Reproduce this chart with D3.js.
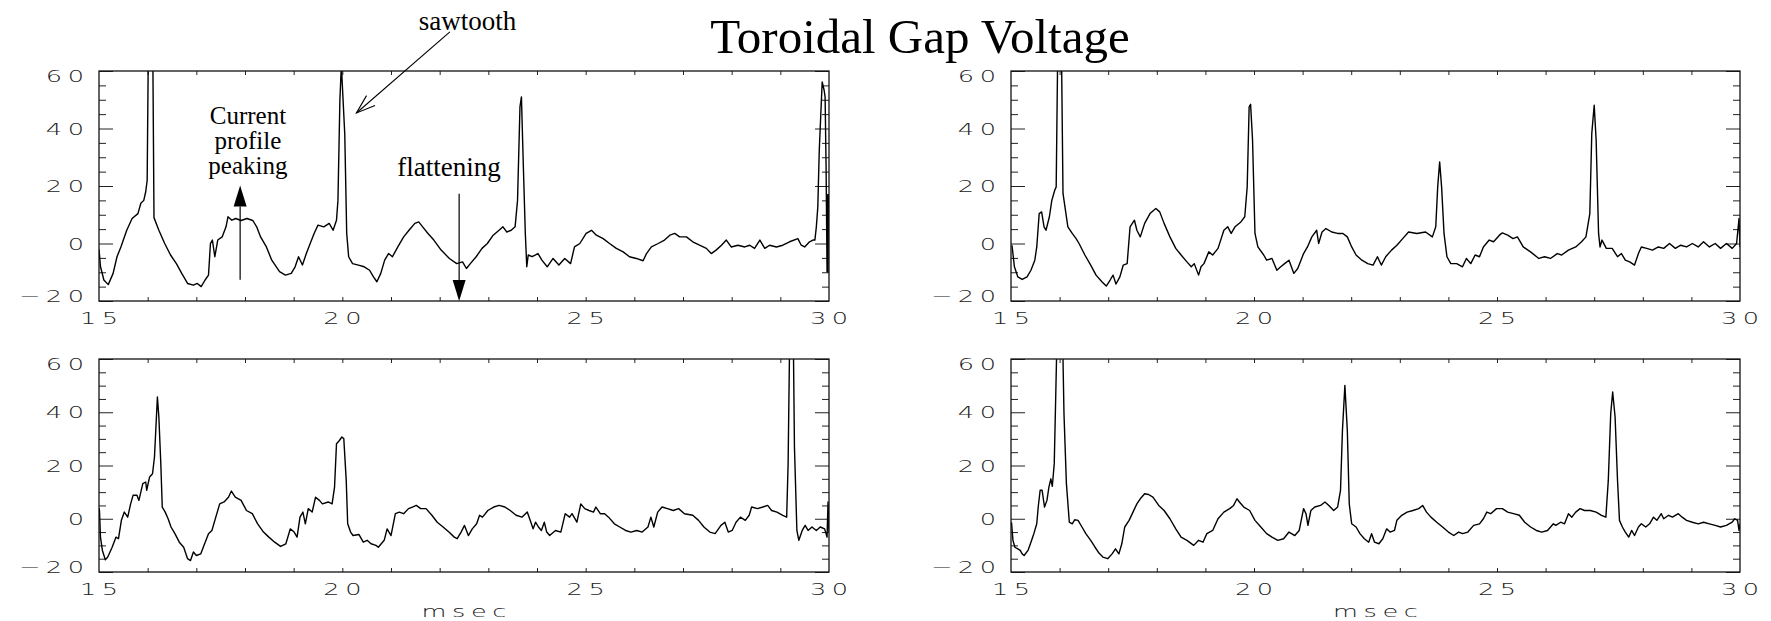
<!DOCTYPE html>
<html>
<head>
<meta charset="utf-8">
<script src="https://cdn.jsdelivr.net/npm/d3@7"></script>
<style>
  body { margin: 0; background: #fff; }
  .lbl { font-family: "DejaVu Sans", sans-serif; font-size: 16px; font-weight: 300; fill: #222; }
  .note { font-family: "Liberation Serif", "Times New Roman", serif; fill: #000; }
</style>
</head>
<body>
<div id="chart"></div>
<script>
// time axis (msec) and voltage axis
var xDomain = [15, 30];
var yDomain = [-20, 60];
var xLabels = [15, 20, 25, 30];
var yLabels = [-20, 0, 20, 40, 60];
var title = "Toroidal Gap Voltage";
var xTitle = "msec";

// traces: [msec, volts]
var traceTL = [[15.00,-2],[15.03,-8],[15.10,-12.7],[15.19,-14.3],[15.29,-10.4],[15.37,-4.6],[15.45,-1.2],[15.57,4.6],[15.68,8.7],[15.80,10.4],[15.86,14],[15.92,15],[15.96,18],[15.99,22],[16.02,80],[16.10,80],[16.13,9],[16.23,4.6],[16.35,0],[16.47,-4],[16.59,-7],[16.70,-10.4],[16.82,-13.9],[16.94,-14.5],[17.02,-13.9],[17.10,-15],[17.18,-12.7],[17.25,-11],[17.29,0],[17.33,1.2],[17.38,-4.6],[17.44,1.2],[17.53,2.3],[17.61,5.8],[17.65,9.3],[17.73,8.1],[17.81,8.7],[17.92,8],[18.04,8.7],[18.16,8],[18.24,5.8],[18.32,2.3],[18.44,-1.2],[18.55,-5.8],[18.71,-9.8],[18.83,-11],[18.95,-10.4],[19.03,-8.1],[19.10,-4.6],[19.18,-7.5],[19.26,-3.5],[19.34,0],[19.42,3.5],[19.50,6.4],[19.62,5.8],[19.73,7],[19.81,4.6],[19.88,8.1],[19.91,15],[19.95,50],[19.98,62],[20.05,38],[20.09,3.5],[20.13,-4.6],[20.21,-7],[20.33,-7.5],[20.45,-8.1],[20.56,-9.3],[20.64,-11.6],[20.71,-13.3],[20.79,-10.4],[20.87,-5.8],[20.95,-3.5],[21.03,-4.6],[21.14,-1.2],[21.26,2.3],[21.37,4.6],[21.49,7],[21.57,7.5],[21.65,5.8],[21.76,3.5],[21.88,1.2],[22.03,-2.3],[22.20,-5.2],[22.35,-7],[22.47,-6.4],[22.55,-8.7],[22.63,-7],[22.75,-4.6],[22.87,-1.7],[22.98,0],[23.10,2.9],[23.22,4.6],[23.30,5.8],[23.38,4],[23.47,4.6],[23.55,5.8],[23.60,15],[23.65,47.5],[23.68,51],[23.72,26.6],[23.76,3.5],[23.79,-8.1],[23.82,-4],[23.90,-4.6],[24.02,-3.5],[24.10,-5.8],[24.21,-8.1],[24.33,-5.2],[24.45,-7.5],[24.57,-5.2],[24.69,-7],[24.77,-1.2],[24.88,0],[25.01,3.5],[25.12,4.6],[25.22,2.9],[25.36,1.7],[25.49,0],[25.63,-1.7],[25.77,-2.9],[25.90,-4.6],[26.04,-5.2],[26.18,-6],[26.25,-3.5],[26.35,-1.2],[26.49,0],[26.62,1.2],[26.73,2.9],[26.83,3.5],[26.93,2.3],[27.07,2.3],[27.20,0.6],[27.34,-0.6],[27.48,-1.7],[27.58,-3.5],[27.68,-2.3],[27.79,-0.6],[27.89,1.2],[27.99,-1.2],[28.13,-0.6],[28.27,-1.2],[28.37,-0.6],[28.47,-1.7],[28.58,1.2],[28.68,-1.7],[28.78,-0.6],[28.92,-1.2],[29.05,-0.6],[29.19,0.6],[29.36,1.7],[29.43,-0.6],[29.50,-1.2],[29.60,0.6],[29.67,1.2],[29.71,1.2],[29.74,5.8],[29.77,12.7],[29.80,32.4],[29.86,56.2],[29.90,53.3],[29.92,51],[29.94,26.7],[29.96,-9.8],[29.97,17],[29.98,-10],[29.99,17],[30.00,8]];

var traceTR = [[15.02,-0.6],[15.07,-8.1],[15.14,-11.6],[15.23,-12.5],[15.33,-11.6],[15.41,-9.3],[15.49,-5.8],[15.53,-1.2],[15.58,10.4],[15.63,11],[15.68,5.8],[15.72,4.6],[15.79,9.3],[15.84,15],[15.90,18.5],[15.93,19.7],[15.97,80],[16.03,80],[16.07,17.4],[16.17,5.8],[16.26,3.5],[16.34,1.7],[16.40,0],[16.52,-4],[16.64,-7.5],[16.75,-11],[16.87,-13.3],[16.96,-14.8],[17.04,-12.7],[17.10,-11],[17.16,-14.1],[17.24,-11.6],[17.31,-7.5],[17.39,-7],[17.45,5.8],[17.54,8.1],[17.59,4.6],[17.66,2.3],[17.75,7],[17.86,10.4],[17.98,12.2],[18.06,11],[18.15,7],[18.27,2.3],[18.39,-1.7],[18.50,-4],[18.62,-6.4],[18.71,-8.1],[18.77,-7],[18.86,-11],[18.91,-8.1],[18.97,-7],[19.07,-2.9],[19.15,-4],[19.26,-1.7],[19.38,4.6],[19.46,5.8],[19.53,3.5],[19.61,5.8],[19.73,7.5],[19.81,9.3],[19.86,19.7],[19.90,47.5],[19.93,48.4],[19.97,36],[20.02,3.5],[20.08,-1.2],[20.20,-4],[20.26,-5.8],[20.37,-5.2],[20.47,-9.3],[20.55,-8.1],[20.63,-7],[20.72,-5.8],[20.82,-10.4],[20.90,-8.7],[21.02,-3.5],[21.10,-1.2],[21.19,2.3],[21.29,4.6],[21.33,0],[21.40,4],[21.48,5.2],[21.60,4],[21.72,3.5],[21.83,3.5],[21.92,2.3],[22.01,-1.2],[22.10,-4],[22.22,-5.8],[22.34,-7],[22.45,-7.5],[22.54,-4.6],[22.62,-7.5],[22.71,-4.6],[22.83,-2.3],[22.94,-0.6],[23.06,1.7],[23.18,4],[23.35,3.5],[23.53,4],[23.67,2.3],[23.74,5.8],[23.78,19.7],[23.82,28.4],[23.86,19.7],[23.91,3.5],[23.97,-4.6],[24.05,-7],[24.17,-7],[24.29,-8.1],[24.37,-5.2],[24.46,-7],[24.55,-4],[24.64,-4.6],[24.72,-1.2],[24.84,1.2],[24.93,0.6],[25.05,2.9],[25.11,3.7],[25.22,2.9],[25.33,1.7],[25.42,2.3],[25.54,-1.2],[25.69,-2.9],[25.86,-5.2],[25.98,-4.6],[26.10,-5.2],[26.24,-3.5],[26.33,-4],[26.47,-2.3],[26.62,-1.2],[26.74,0.6],[26.83,2.3],[26.91,10.4],[26.95,38.2],[27.00,48.1],[27.04,35.9],[27.09,3.5],[27.12,-1.2],[27.16,1.2],[27.25,-1.7],[27.37,-1.7],[27.48,-4.6],[27.56,-3.5],[27.64,-5.8],[27.73,-6.4],[27.83,-7.5],[27.91,-3.5],[27.97,-1.2],[28.08,-1.7],[28.20,-2.3],[28.32,-1.2],[28.43,-1.7],[28.55,0],[28.67,-1.7],[28.78,-0.6],[28.90,-1.2],[29.02,0],[29.14,-1.2],[29.25,0.6],[29.37,-1.2],[29.49,0],[29.60,-1.7],[29.72,0],[29.84,-1.7],[29.93,0],[29.98,8.7],[30.00,-1.2]];

var traceBL = [[15.00,4],[15.01,3.1],[15.03,-6.9],[15.07,-11.9],[15.13,-15.4],[15.18,-14.4],[15.27,-10.7],[15.35,-6.9],[15.40,-7.5],[15.46,-0.6],[15.52,2.5],[15.59,0.6],[15.65,5.6],[15.70,8.8],[15.78,8.8],[15.82,6.9],[15.90,13.2],[15.96,13.8],[15.98,10.7],[16.04,15.7],[16.10,16.9],[16.14,23.2],[16.18,38.2],[16.20,45.7],[16.23,38.2],[16.27,20.7],[16.30,4.4],[16.36,2.5],[16.42,0],[16.48,-3.1],[16.56,-5.6],[16.65,-8.8],[16.74,-10.7],[16.82,-15],[16.88,-15.7],[16.94,-12.5],[17.00,-13.8],[17.09,-13.2],[17.17,-9.4],[17.25,-5.6],[17.32,-4.4],[17.40,0.6],[17.48,5.6],[17.57,6.3],[17.66,8.1],[17.72,10.4],[17.80,8.1],[17.92,6.9],[18.03,3.1],[18.15,1.9],[18.26,-1.9],[18.38,-5],[18.49,-6.9],[18.61,-8.8],[18.73,-10.4],[18.84,-9.4],[18.93,-3.8],[19.01,-5],[19.07,-6.9],[19.13,0.6],[19.19,2.5],[19.24,-1.9],[19.30,3.8],[19.38,2.5],[19.45,8.1],[19.53,6.9],[19.59,5.6],[19.71,6.3],[19.79,5.6],[19.84,11.9],[19.88,28.2],[19.94,29.4],[19.99,30.7],[20.03,30.1],[20.08,14.4],[20.11,-1.9],[20.17,-5],[20.22,-6.3],[20.34,-5.9],[20.43,-8.8],[20.51,-8.1],[20.59,-9.4],[20.69,-10],[20.74,-10.7],[20.86,-8.1],[20.92,-3.8],[21.00,-6.3],[21.09,1.9],[21.17,2.5],[21.26,1.9],[21.36,3.8],[21.44,4.4],[21.52,5],[21.61,3.8],[21.72,3.8],[21.84,1.3],[21.95,-1.3],[22.07,-3.1],[22.19,-5],[22.30,-6.9],[22.36,-7.5],[22.44,-5],[22.51,-2.5],[22.59,-6.3],[22.67,-3.8],[22.76,-1.9],[22.82,1.3],[22.88,0.6],[22.99,3.1],[23.11,4.4],[23.22,5],[23.34,4.4],[23.45,3.1],[23.57,1.3],[23.69,0.6],[23.80,2.5],[23.86,-0.6],[23.92,-3.8],[23.97,-1.3],[24.03,-3.1],[24.09,-4.4],[24.15,-1.3],[24.20,-5],[24.26,-6.3],[24.38,-4.4],[24.49,-5],[24.58,1.9],[24.67,0.6],[24.72,1.9],[24.82,-1.3],[24.90,5.6],[24.98,3.8],[25.07,3.1],[25.16,2.5],[25.21,4.4],[25.30,1.9],[25.39,1.9],[25.47,0.6],[25.59,-1.9],[25.70,-3.1],[25.82,-4.4],[25.93,-5],[26.05,-4.4],[26.16,-5],[26.28,-3.1],[26.34,0.6],[26.40,-3.1],[26.48,2.5],[26.57,4.4],[26.68,3.8],[26.80,3.1],[26.91,3.8],[27.03,1.9],[27.20,1.3],[27.32,-0.6],[27.43,-3.1],[27.55,-5],[27.66,-5.6],[27.78,-2.5],[27.86,-1.3],[27.93,-5],[28.01,-4.4],[28.09,-1.3],[28.18,0.6],[28.28,-0.6],[28.36,1.3],[28.41,4.4],[28.53,3.8],[28.64,4.4],[28.74,5],[28.82,3.1],[28.93,2.5],[29.05,1.3],[29.13,0.6],[29.16,20.7],[29.20,80],[29.26,80],[29.29,27],[29.34,-4.4],[29.38,-8.1],[29.45,-4.4],[29.51,-2.5],[29.57,-4.4],[29.65,-3.1],[29.74,-4.4],[29.82,-3.1],[29.91,-3.8],[29.96,-6.9],[29.98,6.3],[30.00,-5]];

var traceBR = [[15.01,-1.3],[15.04,-8.1],[15.08,-10.7],[15.14,-11.3],[15.19,-11.9],[15.23,-13.2],[15.27,-13.8],[15.35,-11.9],[15.41,-8.8],[15.47,-5.6],[15.53,-1.9],[15.56,4.4],[15.60,10.7],[15.64,10.7],[15.69,4.4],[15.74,6.9],[15.78,11.9],[15.82,15],[15.85,12.2],[15.89,20.7],[15.92,45.7],[15.96,80],[16.05,80],[16.09,39.5],[16.14,13.2],[16.20,-1.3],[16.26,-1.9],[16.31,-0.4],[16.38,-0.6],[16.46,-3.1],[16.54,-5.6],[16.64,-8.1],[16.73,-10.7],[16.81,-12.9],[16.89,-14.4],[16.99,-15],[17.08,-13.2],[17.15,-11.3],[17.22,-13.2],[17.28,-9.4],[17.34,-3.1],[17.43,-0.6],[17.51,2.5],[17.59,5.6],[17.66,7.5],[17.75,9.4],[17.83,9.1],[17.92,8.1],[18.04,5],[18.15,3.1],[18.27,0],[18.39,-3.8],[18.50,-6.9],[18.62,-8.1],[18.76,-10],[18.86,-8.1],[18.95,-8.8],[19.03,-5.6],[19.15,-4.4],[19.26,0],[19.38,2.5],[19.50,3.8],[19.58,5],[19.65,7.5],[19.70,6.3],[19.79,4.4],[19.91,3.1],[20.02,-0.6],[20.14,-3.1],[20.26,-5.6],[20.37,-6.9],[20.49,-8.1],[20.61,-7.5],[20.72,-5],[20.84,-6.3],[20.93,-4.4],[21.02,3.8],[21.07,1.9],[21.11,-2.5],[21.17,3.1],[21.25,4.4],[21.37,5],[21.46,6.3],[21.54,5],[21.64,3.1],[21.72,4.4],[21.78,10.7],[21.82,33.2],[21.87,50.1],[21.92,33.2],[21.96,5.6],[22.01,-1.9],[22.10,-3.1],[22.18,-5.6],[22.27,-7.5],[22.36,-8.8],[22.42,-5.6],[22.48,-8.8],[22.57,-9.4],[22.65,-7.5],[22.73,-3.8],[22.80,-5],[22.89,-4.4],[22.94,-0.6],[23.04,1.3],[23.15,2.5],[23.27,3.1],[23.39,3.8],[23.47,5],[23.55,2.5],[23.64,0.6],[23.76,-1.3],[23.88,-3.1],[24.00,-5],[24.11,-6.3],[24.21,-5],[24.29,-5.6],[24.40,-5],[24.52,-2.5],[24.64,-1.9],[24.72,0],[24.79,2.5],[24.87,1.9],[24.99,3.8],[25.11,3.8],[25.22,2.5],[25.34,1.9],[25.46,1.3],[25.57,-1.3],[25.69,-3.1],[25.81,-4.4],[25.92,-5],[26.04,-4.4],[26.16,-1.9],[26.21,-2.5],[26.31,-1.3],[26.39,-1.9],[26.47,1.9],[26.54,0.6],[26.62,2.5],[26.71,3.8],[26.80,3.1],[26.92,3.1],[27.04,2.5],[27.15,1.3],[27.24,0.6],[27.29,14.4],[27.34,39.5],[27.38,47.6],[27.43,38.2],[27.48,14.4],[27.52,-0.6],[27.58,-3.1],[27.64,-5],[27.71,-6.9],[27.77,-4.4],[27.83,-6.3],[27.91,-3.1],[27.97,-1.9],[28.06,-3.1],[28.14,-1.9],[28.22,0.6],[28.29,-0.6],[28.38,1.9],[28.43,0],[28.53,1.3],[28.61,0.6],[28.73,1.9],[28.81,0.6],[28.90,-0.6],[29.02,-1.3],[29.14,-1.9],[29.25,-1.3],[29.37,-1.9],[29.49,-2.5],[29.60,-3.1],[29.72,-2.5],[29.84,-1.3],[29.89,0],[29.95,-0.6],[29.98,-4.4],[30.00,-1.9]];

// annotations on the top-left panel, placed in data units
var notes = [
  { lines: ["sawtooth"], t: 22.57, v: 74.4, size: 27 },
  { lines: ["Current", "profile", "peaking"], t: 18.06, v: 41.5, size: 25 },
  { lines: ["flattening"], t: 22.19, v: 23.4, size: 27 }
];
var arrows = [
  { t0: 17.9, v0: -12.6, t1: 17.9, v1: 20.2, head: "filled" },
  { t0: 22.4, v0: 17.3, t1: 22.4, v1: -20, head: "filled" },
  { t0: 22.21, v0: 73.6, t1: 20.29, v1: 45.4, head: "open" }
];

var width = 1771, height = 621;
var SX = 1.6, GAP = 3.5;   // stretched, spaced look of the axis lettering

var svg = d3.select("#chart").append("svg")
            .attr("width", width)
            .attr("height", height)
            .style("display", "block");

var panels = [
  { trace: traceTL, left: 99, right: 829, top: 71, bottom: 301, msec: false },
  { trace: traceTR, left: 1011, right: 1740, top: 71, bottom: 301, msec: false },
  { trace: traceBL, left: 99, right: 829, top: 359, bottom: 572, msec: true },
  { trace: traceBR, left: 1011, right: 1740, top: 359, bottom: 572, msec: true }
];

svg.append("text")
   .attr("x", 920)
   .attr("y", 53)
   .attr("text-anchor", "middle")
   .style("font-family", "'Liberation Serif', 'Times New Roman', serif")
   .style("font-size", "49px")
   .text(title);

// spaced label: one tspan per character so there is no trailing gap
function spaced(sel, str, x, y, anchor) {
  sel.attr("class", "lbl")
     .attr("text-anchor", anchor)
     .attr("transform", "translate(" + x + "," + y + ") scale(" + SX + ",1)");
  sel.selectAll("tspan")
     .data(String(str).split(""))
     .enter().append("tspan")
     .attr("dx", function(c, k) { return k ? GAP : 0; })
     .text(function(c) { return c; });
  return sel;
}

panels.forEach(function(p, i) {
  var x = d3.scaleLinear().domain(xDomain).range([p.left, p.right]);
  var y = d3.scaleLinear().domain(yDomain).range([p.bottom, p.top]);
  var g = svg.append("g");

  // inward ticks on all four sides
  var yMinor = d3.range(-20, 61, 5).filter(function(d) { return d % 20 !== 0; });
  var xMinor = d3.range(16, 30, 1);

  g.append("g").attr("transform", "translate(" + p.left + ",0)")
   .call(d3.axisLeft(y).tickValues(yLabels).tickSize(-14).tickSizeOuter(0).tickFormat(""));
  g.append("g").attr("transform", "translate(" + p.left + ",0)")
   .call(d3.axisLeft(y).tickValues(yMinor).tickSize(-7).tickSizeOuter(0).tickFormat(""));
  g.append("g").attr("transform", "translate(" + p.right + ",0)")
   .call(d3.axisRight(y).tickValues(yLabels).tickSize(-14).tickSizeOuter(0).tickFormat(""));
  g.append("g").attr("transform", "translate(" + p.right + ",0)")
   .call(d3.axisRight(y).tickValues(yMinor).tickSize(-7).tickSizeOuter(0).tickFormat(""));
  g.append("g").attr("transform", "translate(0," + p.bottom + ")")
   .call(d3.axisBottom(x).tickValues(xMinor).tickSize(-4).tickSizeOuter(0).tickFormat(""));
  g.append("g").attr("transform", "translate(0," + p.top + ")")
   .call(d3.axisTop(x).tickValues(xMinor).tickSize(-4).tickSizeOuter(0).tickFormat(""));

  g.selectAll(".domain").remove();
  g.selectAll(".tick line").attr("stroke", "#222").attr("stroke-width", 1);

  // tick labels
  yLabels.forEach(function(d) {
    var dy = d === yDomain[1] ? 11 : d === yDomain[0] ? 1 : 6;
    var s = d < 0 ? "\u2212" + Math.abs(d) : String(d);
    spaced(g.append("text"), s, p.left - 15, y(d) + dy, "end");
  });
  xLabels.forEach(function(d) {
    spaced(g.append("text"), d, x(d), p.bottom + 23, "middle");
  });
  if (p.msec) {
    spaced(g.append("text"), xTitle, (p.left + p.right) / 2, p.bottom + 45, "middle");
  }

  // trace, clipped to the frame
  g.append("clipPath").attr("id", "clip" + i)
   .append("rect")
   .attr("x", p.left).attr("y", p.top)
   .attr("width", p.right - p.left).attr("height", p.bottom - p.top);

  var line = d3.line()
               .x(function(d) { return x(d[0]); })
               .y(function(d) { return y(d[1]); });

  g.append("path")
   .datum(p.trace)
   .attr("clip-path", "url(#clip" + i + ")")
   .attr("d", line)
   .attr("fill", "none")
   .attr("stroke", "#000")
   .attr("stroke-width", 1.4)
   .attr("stroke-linejoin", "round");

  g.append("rect")
   .attr("x", p.left).attr("y", p.top)
   .attr("width", p.right - p.left).attr("height", p.bottom - p.top)
   .attr("fill", "none")
   .attr("stroke", "#111")
   .attr("stroke-width", 1.3);

  if (i === 0) {
    var nt = g.selectAll(".note")
              .data(notes)
              .enter().append("text")
              .attr("class", "note")
              .style("font-size", function(d) { return d.size + "px"; })
              .attr("text-anchor", "middle");
    nt.selectAll("tspan")
      .data(function(d) { return d.lines.map(function(s, k) { return { s: s, k: k, d: d }; }); })
      .enter().append("tspan")
      .attr("x", function(e) { return x(e.d.t); })
      .attr("y", function(e) { return y(e.d.v) + e.k * 25; })
      .text(function(e) { return e.s; });

    arrows.forEach(function(a) {
      var x0 = x(a.t0), y0 = y(a.v0), x1 = x(a.t1), y1 = y(a.v1);
      var ang = Math.atan2(y1 - y0, x1 - x0);
      var len = a.head === "filled" ? 21 : 19;
      var half = 6.5;
      var bx = x1 - len * Math.cos(ang), by = y1 - len * Math.sin(ang);
      var px = -Math.sin(ang) * half, py = Math.cos(ang) * half;
      if (a.head === "filled") {
        g.append("line")
         .attr("x1", x0).attr("y1", y0).attr("x2", bx).attr("y2", by)
         .attr("stroke", "#000").attr("stroke-width", 1.2);
        g.append("path")
         .attr("d", "M" + x1 + "," + y1 + "L" + (bx + px) + "," + (by + py) + "L" + (bx - px) + "," + (by - py) + "Z")
         .attr("fill", "#000");
      } else {
        g.append("line")
         .attr("x1", x0).attr("y1", y0).attr("x2", x1).attr("y2", y1)
         .attr("stroke", "#000").attr("stroke-width", 1.1);
        g.append("path")
         .attr("d", "M" + (bx + px) + "," + (by + py) + "L" + x1 + "," + y1 + "L" + (bx - px) + "," + (by - py))
         .attr("fill", "none")
         .attr("stroke", "#000").attr("stroke-width", 1.1);
      }
    });
  }
});
</script>
</body>
</html>
